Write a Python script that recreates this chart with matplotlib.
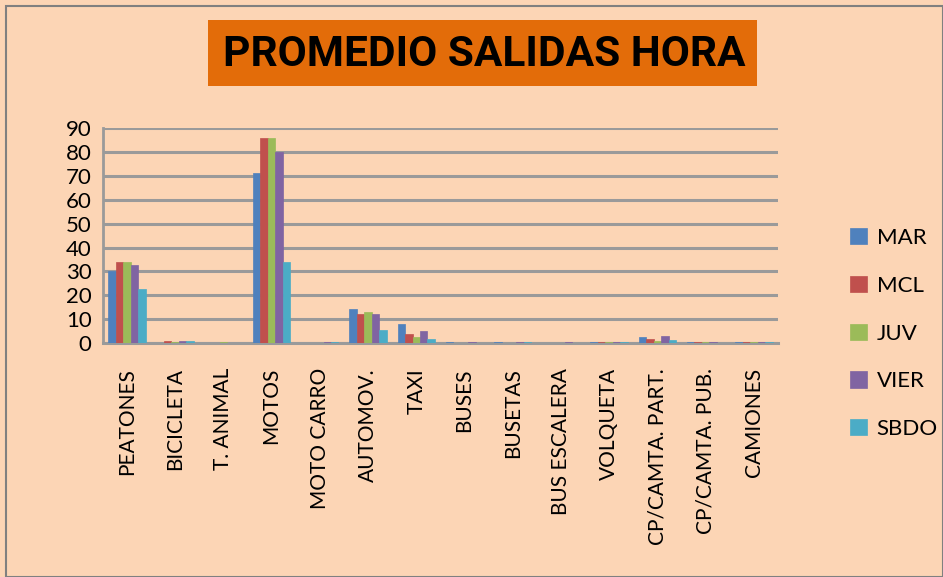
import numpy as np
import matplotlib.pyplot as plt
from matplotlib.patches import Rectangle

categories = ['PEATONES', 'BICICLETA', 'T. ANIMAL', 'MOTOS', 'MOTO CARRO', 'AUTOMOV.',
              'TAXI', 'BUSES', 'BUSETAS', 'BUS ESCALERA', 'VOLQUETA',
              'CP/CAMTA. PART.', 'CP/CAMTA. PUB.', 'CAMIONES']
mar = [30, 0, 0, 71, 0, 14.2, 7.9, 0.3, 0.3, 0, 0.5, 2.4, 0.4, 0.4]
mcl = [34, 1, 0, 86, 0, 12.2, 3.6, 0, 0, 0, 0.5, 1.8, 0.5, 0.4]
juv = [33.8, 0.5, 0.5, 86, 0, 13, 2.6, 0, 0, 0, 0.4, 1.0, 0.4, 0.4]
vier = [32.5, 0.8, 0, 80, 0.3, 12.2, 5.1, 0.3, 0.4, 0.3, 0.4, 2.9, 0.4, 0.5]
sbdo = [22.5, 1.0, 0, 34, 0.3, 5.4, 1.7, 0, 0.4, 0, 0.5, 1.4, 0, 0.4]

series = [('MAR', mar, '#4F81BD'), ('MCL', mcl, '#C0504D'), ('JUV', juv, '#9BBB59'),
          ('VIER', vier, '#8064A2'), ('SBDO', sbdo, '#4BACC6')]

bg = '#FCD5B5'
plt.rcParams['font.family'] = ['Lato', 'DejaVu Sans']

fig = plt.figure(figsize=(9.43, 5.77), dpi=100, facecolor=bg)
ax = fig.add_axes([0.109, 0.4055, 0.716, 0.3725], facecolor=bg)

x = np.arange(len(categories))
w = 0.155
for i, (name, vals, col) in enumerate(series):
    ax.bar(x + (i - 2) * w, vals, width=w, color=col, edgecolor=col, linewidth=0.5,
           label=name, zorder=3)

ax.set_xlim(-0.5, len(categories) - 0.5)
ax.set_ylim(0, 90)
ax.set_yticks(range(0, 91, 10))
ax.yaxis.grid(True, color='#9A9A9A', linewidth=2.2, zorder=0)
ax.set_xticks(x)
ax.set_xticklabels(categories, rotation=90, fontsize=15)
ax.tick_params(axis='y', labelsize=16, length=0, pad=8)
ax.tick_params(axis='x', length=0, pad=18)
for s in ['top', 'right']:
    ax.spines[s].set_visible(False)
ax.spines['left'].set_color('#9A9A9A')
ax.spines['left'].set_linewidth(2)
ax.spines['bottom'].set_color('#9A9A9A')
ax.spines['bottom'].set_linewidth(2.2)

leg = fig.legend(loc='center left', bbox_to_anchor=(0.88, 0.422),
                 frameon=False, fontsize=16, handlelength=0.75, handleheight=0.75,
                 labelspacing=1.25, handletextpad=0.45)

# orange title box
fig.patches.append(Rectangle((208 / 943, 1 - 86 / 577), 549 / 943, 66 / 577,
                             transform=fig.transFigure, facecolor='#E36C09',
                             edgecolor='none'))
fig.text(0.513, 1 - 54 / 577, 'PROMEDIO SALIDAS HORA', ha='center', va='center',
         fontsize=30.5, fontweight='bold', family=['Roboto', 'DejaVu Sans'])

fig.patches.append(Rectangle((0.006, 0.0), 0.994, 0.99, transform=fig.transFigure,
                             fill=False, edgecolor='#808080', linewidth=1.5))

fig.savefig('out.png', dpi=100, facecolor=bg)
